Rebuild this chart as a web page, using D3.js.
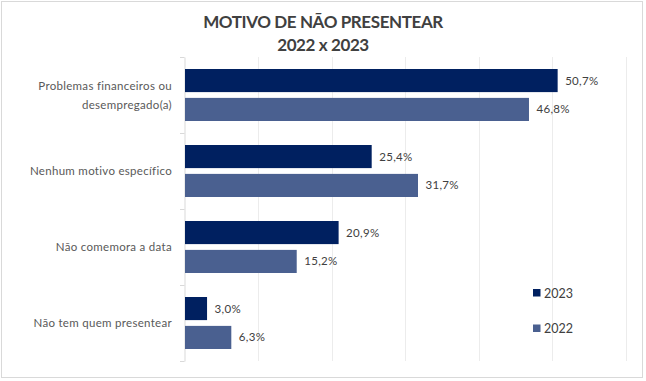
<!DOCTYPE html>
<html><head><meta charset="utf-8">
<script src="https://cdn.jsdelivr.net/npm/d3@7"></script>
<style>
html,body{margin:0;padding:0;background:#fff;}
svg{display:block;}
text{font-family:Lato,"Open Sans",sans-serif;}
</style></head>
<body>
<script>
const categories = [["Problemas financeiros ou","desempregado(a)"],["Nenhum motivo específico"],["Não comemora a data"],["Não tem quem presentear"]];
const series = ["2023","2022"];
const values2023 = [50.7, 25.4, 20.9, 3.0];
const values2022 = [46.8, 31.7, 15.2, 6.3];
const xTicks = [0,10,20,30,40,50,60];
const colors = ["#002060","#4a6090"];
const title = ["MOTIVO DE NÃO PRESENTEAR","2022 x 2023"];

const W=646,H=381;
const svg=d3.select("body").append("svg").attr("width",W).attr("height",H);
svg.append("rect").attr("x",1.5).attr("y",1.5).attr("width",641).attr("height",376)
  .attr("fill","#fff").attr("stroke","#d9d9d9").attr("stroke-width",1);

const x=d3.scaleLinear().domain([0,60]).range([184.5,625.5]);
const y=d3.scaleBand().domain(d3.range(categories.length)).range([57,361]).paddingInner(0).paddingOuter(0);
const inner=d3.scaleBand().domain(series).range([12,y.bandwidth()-12]).paddingInner(0.2);

// gridlines
svg.append("g").selectAll("line").data(xTicks.slice(1)).join("line")
  .attr("x1",d=>Math.round(x(d))+0.5).attr("x2",d=>Math.round(x(d))+0.5)
  .attr("y1",57).attr("y2",361).attr("stroke","#ececec");

// y axis
const yAxis=d3.axisLeft(y).tickSizeInner(0).tickSizeOuter(0).tickFormat("");
const ga=svg.append("g").attr("transform","translate(184.5,0)").call(yAxis);
ga.select(".domain").attr("stroke","#d9d9d9");
ga.selectAll(".tick").remove();
// category boundary ticks
svg.append("g").selectAll("line").data(d3.range(categories.length+1)).join("line")
  .attr("x1",180).attr("x2",184.5)
  .attr("y1",d=>Math.round(57+d*y.bandwidth())+0.5).attr("y2",d=>Math.round(57+d*y.bandwidth())+0.5)
  .attr("stroke","#d9d9d9");

// category labels
categories.forEach((lines,i)=>{
  const cy=y(i)+y.bandwidth()/2;
  const t=svg.append("text").attr("x",172).attr("text-anchor","end")
    .attr("font-size",11.5).attr("fill","#595959").attr("letter-spacing","0.3px");
  const lh=19;
  lines.forEach((l,j)=>{
    t.append("tspan").attr("x",172).attr("y",cy+4+(j-(lines.length-1)/2)*lh).text(l);
  });
});

// bars
const data=[values2023,values2022];
series.forEach((s,si)=>{
  const g=svg.append("g");
  g.selectAll("rect").data(data[si]).join("rect")
    .attr("x",x(0)+0.5).attr("y",(d,i)=>y(i)+inner(s))
    .attr("width",d=>x(d)-x(0)).attr("height",inner.bandwidth())
    .attr("fill",colors[si]);
  g.selectAll("text").data(data[si]).join("text")
    .attr("x",d=>x(d)+8).attr("y",(d,i)=>y(i)+inner(s)+inner.bandwidth()/2+4)
    .attr("font-size",11.5).attr("fill","#404040").attr("letter-spacing","0.3px")
    .text(d=>d.toFixed(1).replace(".",",")+"%");
});

// title
svg.append("text").attr("x",W/2).attr("y",28).attr("text-anchor","middle")
  .attr("font-size",17).attr("font-weight","bold").attr("fill","#404040").attr("letter-spacing","-0.4px").text(title[0]);
svg.append("text").attr("x",W/2).attr("y",51).attr("text-anchor","middle")
  .attr("font-size",17).attr("font-weight","bold").attr("fill","#404040").attr("letter-spacing","-0.4px").text(title[1]);

// legend
series.forEach((s,i)=>{
  const ly=289+i*35.5;
  svg.append("rect").attr("x",533).attr("y",ly).attr("width",7.5).attr("height",7.5).attr("fill",colors[i]);
  svg.append("text").attr("x",544).attr("y",ly+8.5).attr("font-size",12.5).attr("fill","#404040").text(s);
});
</script>
</body></html>
